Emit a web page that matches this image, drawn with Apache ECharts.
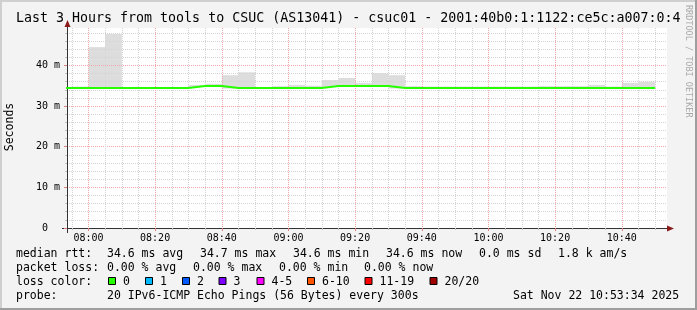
<!DOCTYPE html>
<html><head><meta charset="utf-8">
<script src="https://cdn.jsdelivr.net/npm/echarts@6/dist/echarts.min.js"></script>
<style>html,body{margin:0;padding:0;background:#f3f3f3}#c{width:697px;height:310px}</style>
</head><body><div id="c"></div>
<script>
// ---- data ----
const timeStart = '07:53:34';
const timeEnd = '10:53:34';
const binMinutes = 5;
const binStarts = ['07:50','07:55','08:00','08:05','08:10','08:15','08:20','08:25','08:30','08:35',
  '08:40','08:45','08:50','08:55','09:00','09:05','09:10','09:15','09:20','09:25',
  '09:30','09:35','09:40','09:45','09:50','09:55','10:00','10:05','10:10','10:15',
  '10:20','10:25','10:30','10:35','10:40','10:45'];
const medianRtt = [34.45,34.45,34.45,34.45,34.45,34.45,34.45,34.45,34.93,34.93,
  34.45,34.45,34.45,34.45,34.45,34.45,34.93,34.93,34.93,34.93,
  34.45,34.45,34.45,34.45,34.45,34.45,34.45,34.45,34.45,34.45,
  34.45,34.45,34.45,34.45,34.45,34.45];
const smokeMin = [34.3,34.3,34.3,34.3,34.3,34.3,34.3,34.3,34.7,34.7,
  34.3,34.3,34.3,34.3,34.3,34.3,34.7,34.7,34.7,34.7,
  34.3,34.3,34.3,34.3,34.3,34.3,34.3,34.3,34.3,34.3,
  34.3,34.3,34.3,34.3,34.3,34.3];
const smokeMax = [34.7,34.8,44.5,47.7,34.7,34.7,34.7,34.7,35.2,35.5,
  37.6,38.3,34.7,34.9,35.2,35.0,36.4,36.9,35.7,38.1,
  37.6,34.9,34.8,34.8,34.8,34.8,34.8,34.8,34.8,34.9,
  34.9,34.9,35.2,34.8,35.7,36.0];
const majorTimeTicks = ['08:00','08:20','08:40','09:00','09:20','09:40','10:00','10:20','10:40'];
const minorTimeTicks = ['07:55','08:00','08:05','08:10','08:15','08:20','08:25','08:30','08:35','08:40',
  '08:45','08:50','08:55','09:00','09:05','09:10','09:15','09:20','09:25','09:30','09:35','09:40',
  '09:45','09:50','09:55','10:00','10:05','10:10','10:15','10:20','10:25','10:30','10:35','10:40',
  '10:45','10:50'];
const majorValueTicks = [0,10,20,30,40];
const minorValueTicks = [0,2,4,6,8,10,12,14,16,18,20,22,24,26,28,30,32,34,36,38,40,42,44,46,48];
const yMax = 49.2;

const titleText = 'Last 3 Hours from tools to CSUC (AS13041) - csuc01 - 2001:40b0:1:1122:ce5c:a007:0:4';
const rowRtt = [['median rtt:',16],['34.6 ms avg',107],['34.7 ms max',200],['34.6 ms min',293],['34.6 ms now',386],['0.0 ms sd',479],['1.8 k am/s',558]];
const rowLoss = [['packet loss:',16],['0.00 % avg',107],['0.00 % max',193],['0.00 % min',279],['0.00 % now',364]];
const lossColors = [['0','#26ff00',108.5],['1','#00b8ff',145.5],['2','#0059ff',182.5],['3','#7e00ff',219],
  ['4-5','#ff00ff',257],['6-10','#ff5500',307.5],['11-19','#ff0000',365],['20/20','#a10000',430]];
const rowProbe = [['probe:',16],['20 IPv6-ICMP Echo Pings (56 Bytes) every 300s',107],['Sat Nov 22 10:53:34 2025',513]];

// ---- helpers ----
const toMin = s => { const p = s.split(':').map(Number); return p[0]*60 + p[1] + (p[2]||0)/60; };
const pad = n => (n < 10 ? '0' : '') + n;
const fmtTime = v => { const m = Math.round(v); return pad(Math.floor(m/60)) + ':' + pad(m % 60); };
const MONO = 'DejaVu Sans Mono';

const xMin = toMin(timeStart), xMax = toMin(timeEnd);
// stepped median line: each bin holds its value from its start to its end
const lineData = [];
binStarts.forEach((t,i) => {
  lineData.push([toMin(t), medianRtt[i]]);
  lineData.push([toMin(t) + binMinutes, medianRtt[i]]);
});
const smokeData = binStarts.map((t,i) => [toMin(t), toMin(t) + binMinutes, smokeMin[i], smokeMax[i]]);

const chart = echarts.init(document.getElementById('c'), null, {renderer:'canvas'});

const graphics = [];
// frame
graphics.push({type:'rect', shape:{x:0,y:0,width:697,height:2}, style:{fill:'#cfcfcf'}, silent:true});
graphics.push({type:'rect', shape:{x:0,y:0,width:2,height:310}, style:{fill:'#cfcfcf'}, silent:true});
graphics.push({type:'rect', shape:{x:0,y:308,width:697,height:2}, style:{fill:'#9e9e9e'}, silent:true});
graphics.push({type:'rect', shape:{x:695,y:0,width:2,height:310}, style:{fill:'#9e9e9e'}, silent:true});
// title
graphics.push({type:'text', x:16, y:19, style:{text:titleText, fontFamily:MONO, fontSize:13.3, fill:'#000', verticalAlign:'middle'}});
// y name
graphics.push({type:'text', x:10, y:127, rotation:Math.PI/2, style:{text:'Seconds', fontFamily:MONO, fontSize:11.5, fill:'#000', align:'center', verticalAlign:'middle'}});
// watermark
graphics.push({type:'text', x:688, y:5, rotation:-Math.PI/2, style:{text:'RRDTOOL / TOBI OETIKER', fontFamily:MONO, fontSize:8.5, fill:'#aaaaaa', align:'left', verticalAlign:'middle'}});
// axis extensions and arrows
graphics.push({type:'line', shape:{x1:67.5,y1:228,x2:67.5,y2:233}, style:{stroke:'#333', lineWidth:1}});
graphics.push({type:'line', shape:{x1:62,y1:228.5,x2:67,y2:228.5}, style:{stroke:'#333', lineWidth:1}});
graphics.push({type:'line', shape:{x1:667,y1:228.5,x2:670,y2:228.5}, style:{stroke:'#333', lineWidth:1}});
graphics.push({type:'line', shape:{x1:67.5,y1:28,x2:67.5,y2:24}, style:{stroke:'#333', lineWidth:1}});
graphics.push({type:'polygon', shape:{points:[[67.5,20],[64.5,27],[70.5,27]]}, style:{fill:'#8b1a1a'}});
graphics.push({type:'polygon', shape:{points:[[674,228.5],[667,225.5],[667,231.5]]}, style:{fill:'#8b1a1a'}});
// legend rows
const legendText = (txt, x, y) => ({type:'text', x:x, y:y, style:{text:txt, fontFamily:MONO, fontSize:11.5, fill:'#000', verticalAlign:'middle'}});
rowRtt.forEach(r => graphics.push(legendText(r[0], r[1], 254.5)));
rowLoss.forEach(r => graphics.push(legendText(r[0], r[1], 268.5)));
graphics.push(legendText('loss color:', 16, 282));
lossColors.forEach(c => {
  graphics.push({type:'rect', shape:{x:c[2], y:277.5, width:7, height:7}, style:{fill:c[1], stroke:'#000', lineWidth:1}});
  graphics.push(legendText(c[0], c[2] + 14.5, 282));
});
rowProbe.forEach(r => graphics.push(legendText(r[0], r[1], 296)));

const minorLine = {color:'#d4d4d4', width:1, type:[1,1]};
const majorLine = {color:'#f0a8a8', width:1, type:[1,1]};

chart.setOption({
  animation:false,
  backgroundColor:'#f3f3f3',
  grid:{left:67, right:30, top:28, bottom:82, show:true, backgroundColor:'#ffffff', borderWidth:0},
  xAxis:[
    {type:'value', position:'bottom', min:xMin, max:xMax, z:3,
     axisLine:{show:false}, axisLabel:{show:false},
     axisTick:{show:true, customValues:minorTimeTicks.map(toMin), length:2, lineStyle:{color:'#c0c0c0'}},
     splitLine:{show:true, lineStyle:minorLine}},
    {type:'value', position:'bottom', min:xMin, max:xMax, z:3,
     axisLine:{show:true, onZero:false, lineStyle:{color:'#333', width:1}},
     axisTick:{show:true, customValues:majorTimeTicks.map(toMin), length:3, lineStyle:{color:'#e08080'}},
     axisLabel:{show:true, customValues:majorTimeTicks.map(toMin), formatter:fmtTime, margin:5,
       fontFamily:MONO, fontSize:10, color:'#000'},
     splitLine:{show:true, lineStyle:majorLine}}
  ],
  yAxis:[
    {type:'value', position:'left', min:0, max:yMax, z:3,
     axisLine:{show:false}, axisLabel:{show:false},
     axisTick:{show:true, customValues:minorValueTicks, length:2, lineStyle:{color:'#c0c0c0'}},
     splitLine:{show:true, lineStyle:minorLine}},
    {type:'value', position:'left', min:0, max:yMax, z:3,
     axisLine:{show:true, onZero:false, lineStyle:{color:'#333', width:1}},
     axisTick:{show:true, customValues:majorValueTicks, length:3, lineStyle:{color:'#e08080'}},
     axisLabel:{show:true, customValues:majorValueTicks, margin:7,
       formatter:v => v === 0 ? '0  ' : v + ' m', fontFamily:MONO, fontSize:10, color:'#000'},
     splitLine:{show:true, lineStyle:majorLine}}
  ],
  series:[
    {type:'custom', name:'smoke', xAxisIndex:1, yAxisIndex:1, z:1, clip:true,
     data:smokeData, encode:{x:[0,1], y:[2,3]},
     renderItem:function(params, api){
       const p0 = api.coord([api.value(0), api.value(3)]);
       const p1 = api.coord([api.value(1), api.value(2)]);
       const cs = params.coordSys;
       const shape = echarts.graphic.clipRectByRect(
         {x:p0[0], y:p0[1], width:p1[0]-p0[0], height:p1[1]-p0[1]},
         {x:cs.x, y:cs.y, width:cs.width, height:cs.height});
       return shape && {type:'rect', shape:shape, style:{fill:'#dddddd'}};
     }},
    {type:'line', name:'median rtt', xAxisIndex:1, yAxisIndex:1, z:5,
     data:lineData, showSymbol:false, symbol:'none', clip:true,
     lineStyle:{color:'#26ff00', width:2, join:'miter', cap:'butt'}}
  ],
  graphic:graphics
});
</script></body></html>
